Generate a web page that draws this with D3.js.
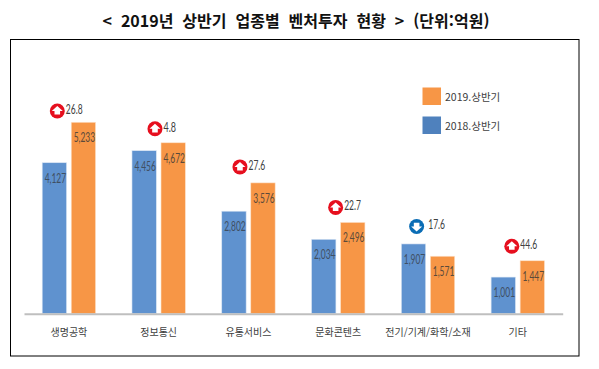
<!DOCTYPE html>
<html lang="ko">
<head>
    <meta charset="utf-8">
    <title>2019년 상반기 업종별 벤처투자 현황</title>
    <style>
        html, body { margin: 0; padding: 0; background: #fff; }
        svg { display: block; }
        text { font-family: "Noto Sans CJK KR", sans-serif; }
        .value, .change { font-family: Lato, sans-serif; }
    </style>
    <script src="https://d3js.org/d3.v7.min.js"></script>
</head>
<body>
    <script>
        // data
        const categories = ["생명공학", "정보통신", "유통서비스", "문화콘텐츠", "전기/기계/화학/소재", "기타"];
        const seriesNames = ["2018.상반기", "2019.상반기"];
        const values2018 = [4127, 4456, 2802, 2034, 1907, 1001];
        const values2019 = [5233, 4672, 3576, 2496, 1571, 1447];
        const changes = [26.8, 4.8, 27.6, 22.7, 17.6, 44.6];
        const directions = ["up", "up", "up", "up", "down", "up"];
        const titleText = "<  2019년  상반기  업종별  벤처투자  현황  >  (단위:억원)";

        // layout
        const width = 599, height = 369;
        const colors = ["#5f92cf", "#f79646"];
        const legendColors = ["#4f81bd", "#f79646"];
        // badge placement relative to group centre / tallest bar (hand placed in the original)
        const badgeDx = [-11.6, -3.7, -8.5, -2.6, -11.4, -6];
        const badgeDy = [-11.3, -14, -16, -15, -17.5, -14.5];
        const labelDx = [8.5, 8.5, 8.5, 8.5, 11.6, 8.5];

        const svg = d3.select("body").append("svg")
            .attr("width", width)
            .attr("height", height);

        // title
        svg.append("text")
            .attr("x", 296)
            .attr("y", 26.5)
            .attr("text-anchor", "middle")
            .attr("font-size", 16)
            .attr("font-weight", 700)
            .attr("fill", "#111")
            .style("white-space", "pre")
            .text(titleText);

        // frame
        svg.append("rect")
            .attr("x", 10.5)
            .attr("y", 39.5)
            .attr("width", 568.5)
            .attr("height", 316.5)
            .attr("fill", "none")
            .attr("stroke", "#000")
            .attr("stroke-width", 1);

        // scales
        const x = d3.scaleBand().domain(categories).range([24, 562.7]);
        const xInner = d3.scaleBand().domain([0, 1]).range([-26.7, 26.7]).paddingInner(0.16);
        const y = d3.scaleLinear().domain([0, 6000]).range([313.7, 94.2]);
        const center = c => x(c) + x.bandwidth() / 2;

        // bars
        [values2018, values2019].forEach((vals, s) => {
            const g = svg.append("g");
            g.selectAll("rect")
                .data(vals)
                .enter()
                .append("rect")
                .attr("x", (d, i) => center(categories[i]) + xInner(s))
                .attr("y", d => y(d))
                .attr("width", xInner.bandwidth())
                .attr("height", d => y(0) - y(d))
                .attr("fill", colors[s])
                .attr("stroke", s === 0 ? "#dbe6f4" : "#fde3cc")
                .attr("stroke-width", 0.6);

            // the labels are squeezed sideways in the original
            g.selectAll("text")
                .data(vals)
                .enter()
                .append("text")
                .attr("class", "value")
                .attr("x", (d, i) => center(categories[i]) + xInner(s) + xInner.bandwidth() / 2 + 1)
                .attr("y", d => y(d) + 20)
                .attr("text-anchor", "middle")
                .attr("font-size", 12.5)
                .attr("textLength", 21.5)
                .attr("lengthAdjust", "spacingAndGlyphs")
                .attr("fill", s === 0 ? "#3f4f63" : "#5b4a3a")
                .text(d => d3.format(",")(d));
        });

        // category axis
        const axis = svg.append("g")
            .attr("transform", `translate(0,${y(0)})`)
            .call(d3.axisBottom(x).tickSize(0).tickPadding(15));
        axis.select(".domain").attr("stroke", "#bfbfbf").attr("stroke-width", 2);
        axis.selectAll("text")
            .attr("font-size", 10)
            .attr("fill", "#404040")
            .style("font-family", '"Noto Sans CJK KR", sans-serif');

        // change badges
        const badges = svg.append("g").selectAll("g")
            .data(categories)
            .enter()
            .append("g")
            .attr("transform", (c, i) => {
                const top = Math.max(values2018[i], values2019[i]);
                return `translate(${center(c) + badgeDx[i]},${y(top) + badgeDy[i]})`;
            });

        badges.append("circle")
            .attr("r", 7.5)
            .attr("fill", (c, i) => directions[i] === "up" ? "#e60f1e" : "#0b6db5");

        badges.append("path")
            .attr("d", "M0,-5L5.5,0L2.8,0L2.8,3.6L-2.8,3.6L-2.8,0L-5.5,0Z")
            .attr("transform", (c, i) => directions[i] === "up" ? "" : "rotate(180)")
            .attr("fill", "#fff");

        badges.append("text")
            .attr("class", "change")
            .attr("x", (c, i) => labelDx[i])
            .attr("y", 3)
            .attr("font-size", 12.5)
            .attr("textLength", (c, i) => String(changes[i]).length * 4.2)
            .attr("lengthAdjust", "spacingAndGlyphs")
            .attr("fill", "#404040")
            .text((c, i) => changes[i]);

        // legend, 2019 on top
        const legend = svg.append("g").selectAll("g")
            .data([1, 0])
            .enter()
            .append("g")
            .attr("transform", (s, i) => `translate(422.5,${87.5 + i * 29})`);

        legend.append("rect")
            .attr("width", 18.5)
            .attr("height", 17.5)
            .attr("fill", s => legendColors[s]);

        legend.append("text")
            .attr("x", 22.5)
            .attr("y", 13.5)
            .attr("font-size", 10.5)
            .attr("fill", "#404040")
            .text(s => seriesNames[s]);
    </script>
</body>
</html>
